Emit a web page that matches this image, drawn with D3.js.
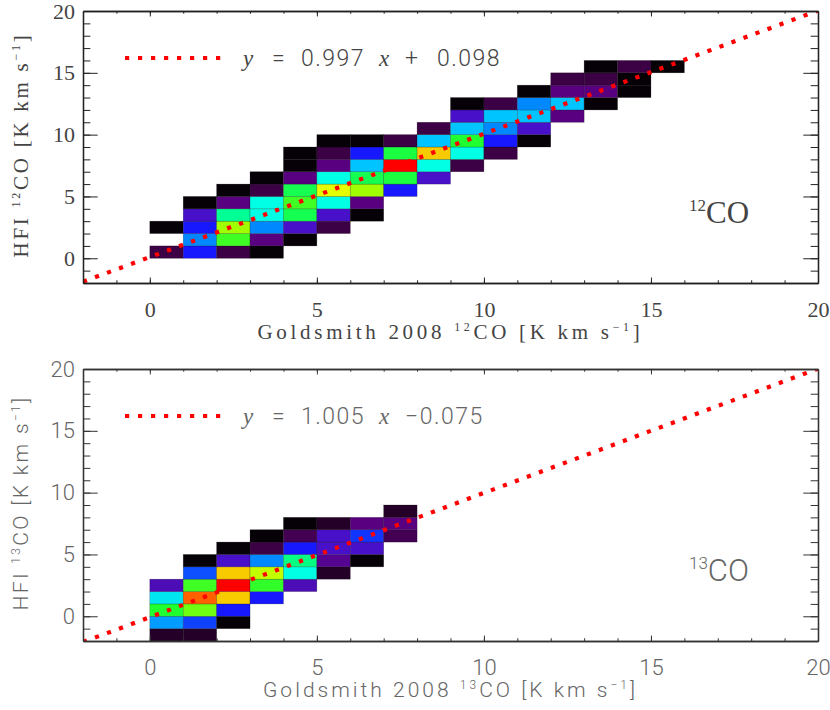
<!DOCTYPE html>
<html>
<head>
<meta charset="utf-8">
<script src="https://cdn.jsdelivr.net/npm/d3@7"></script>
<style>
  body { margin: 0; background: #fff; }
</style>
</head>
<body>
<svg id="chart"></svg>
<script>
// 2D histogram cells: [x bin start, y bin start, relative density 0-100]
const cells12 = [
  [0,0,10],[1,0,34],[2,0,10],[3,0,1],
  [1,1,42],[2,1,68],[3,1,18],[4,1,1],
  [0,2,1],[1,2,34],[2,2,74],[3,2,42],[4,2,26],[5,2,10],
  [1,3,26],[2,3,60],[3,3,55],[4,3,64],[5,3,26],[6,3,1],
  [1,4,1],[2,4,18],[3,4,55],[4,4,68],[5,4,55],[6,4,18],
  [2,5,1],[3,5,10],[4,5,64],[5,5,80],[6,5,74],[7,5,34],
  [3,6,1],[4,6,18],[5,6,55],[6,6,64],[7,6,65],[8,6,26],
  [4,7,1],[5,7,18],[6,7,48],[7,7,100],[8,7,55],[9,7,10],
  [4,8,1],[5,8,10],[6,8,34],[7,8,65],[8,8,86],[9,8,55],[10,8,10],
  [5,9,1],[6,9,1],[7,9,10],[8,9,48],[9,9,66],[10,9,34],[11,9,1],
  [8,10,10],[9,10,48],[10,10,42],[11,10,26],
  [9,11,26],[10,11,48],[11,11,48],[12,11,18],
  [9,12,1],[10,12,10],[11,12,42],[12,12,48],[13,12,1],
  [11,13,1],[12,13,18],[13,13,18],[14,13,1],
  [12,14,10],[13,14,10],[14,14,1],
  [13,15,1],[14,15,10],[15,15,1]
];

const cells13 = [
  [0,-2,6],[1,-2,6],
  [0,-1,44],[1,-1,37],[2,-1,1],
  [0,0,66],[1,0,71],[2,0,34],
  [0,1,52],[1,1,94],[2,1,86],[3,1,34],
  [0,2,24],[1,2,68],[2,2,100],[3,2,67],[4,2,24],
  [1,3,38],[2,3,86],[3,3,77],[4,3,55],[5,3,6],
  [1,4,1],[2,4,26],[3,4,42],[4,4,61],[5,4,20],[6,4,1],
  [2,5,1],[3,5,10],[4,5,34],[5,5,26],[6,5,26],
  [3,6,1],[4,6,12],[5,6,26],[6,6,36],[7,6,12],
  [4,7,1],[5,7,6],[6,7,18],[7,7,18],
  [7,8,6]
];

// linear fits: [slope, intercept]
const fit12 = [0.997, 0.098];
const fit13 = [1.005, -0.075];

const xDomain = [-2, 20];
const yDomain = [-2, 20];
const xTicks = [0, 5, 10, 15, 20];
const yTicks = [0, 5, 10, 15, 20];

// colour table (black -> purple -> blue -> cyan -> green -> yellow -> red)
const densityStops = [0, 10, 18, 26, 34, 42, 48, 55, 60, 66, 74, 80, 88, 94, 100];
const densityColors = ["#000000", "#3c0044", "#58007f", "#4810c8", "#1818ff", "#0088ff",
  "#00c4ff", "#00ffe4", "#00ff94", "#20ff30", "#a0ff00", "#e4ff00", "#ffb800", "#ff6000", "#ff0000"];

const width = 830, height = 710;
const margin = {left: 83, right: 12};

const svg = d3.select("#chart")
  .attr("width", width)
  .attr("height", height)
  .style("font-family", "Liberation Serif");

const color = d3.scaleLinear().domain(densityStops).range(densityColors);

const xScale = d3.scaleLinear()
  .domain(xDomain)
  .range([margin.left, width - margin.right]);

const panels = [
  {cells: cells12, fit: fit12, top: 11, bottom: 283, iso: "12",
   font: "Liberation Serif", weight: 400, ink: "#444", axisInk: "#222",
   xTitleW: 386, yTitleW: 225, titleSize: 21,
   fitText: ["y", "=", "0.997", "x", "+", "0.098"], fitX: [243, 272, 301, 379, 405, 437]},
  {cells: cells13, fit: fit13, top: 369, bottom: 641, iso: "13",
   font: "Roboto", weight: 300, ink: "#666", axisInk: "#333",
   xTitleW: 375, yTitleW: 215, titleSize: 21,
   fitText: ["y", "=", "1.005", "x", "\u22120.075"], fitX: [243, 272, 301, 379, 405]}
];

// stretch a text to a given width by letter spacing
function spread(sel, target) {
  const node = sel.node();
  const n = node.textContent.length;
  const w = node.getBBox().width;
  sel.style("letter-spacing", ((target - w) / n) + "px");
}

panels.forEach(function(p, i) {
  const yScale = d3.scaleLinear()
    .domain(yDomain)
    .range([p.bottom, p.top]);

  const g = svg.append("g");

  svg.append("clipPath").attr("id", "clip" + i)
    .append("rect")
    .attr("x", xScale(xDomain[0]))
    .attr("y", p.top)
    .attr("width", xScale(xDomain[1]) - xScale(xDomain[0]))
    .attr("height", p.bottom - p.top);

  // histogram cells
  g.append("g")
    .attr("clip-path", `url(#clip${i})`)
    .selectAll("rect")
    .data(p.cells)
    .enter().append("rect")
    .attr("x", d => xScale(d[0]))
    .attr("y", d => yScale(d[1] + 1))
    .attr("width", d => xScale(d[0] + 1) - xScale(d[0]))
    .attr("height", d => yScale(d[1]) - yScale(d[1] + 1))
    .attr("fill", d => color(d[2]))
    .attr("stroke", "#000")
    .attr("stroke-opacity", 0.35)
    .attr("stroke-width", 0.6);

  // fit line
  const line = d3.line()
    .x(d => xScale(d))
    .y(d => yScale(p.fit[0] * d + p.fit[1]));

  g.append("path")
    .attr("clip-path", `url(#clip${i})`)
    .datum(xDomain)
    .attr("d", line)
    .attr("fill", "none")
    .attr("stroke", "#ff0000")
    .attr("stroke-width", 4.2)
    .attr("stroke-dasharray", "4.2 8.6");

  // axes, ticks inside on all four sides
  const tickLenX = 0.02 * (p.bottom - p.top);
  const tickLenY = 0.02 * (xScale.range()[1] - xScale.range()[0]);
  const minorX = d3.range(xDomain[0], xDomain[1] + 1);
  const minorY = d3.range(yDomain[0], yDomain[1] + 1);

  function styleAxis(sel) {
    sel.selectAll("path, line").attr("stroke", p.axisInk);
    sel.selectAll("text")
      .attr("fill", p.ink)
      .style("font-family", p.font)
      .style("font-weight", p.weight)
      .style("font-size", "22px");
  }

  g.append("g")
    .attr("transform", `translate(0,${p.bottom})`)
    .call(d3.axisBottom(xScale).tickValues(minorX).tickSize(-tickLenX / 2).tickFormat("").tickSizeOuter(0))
    .call(styleAxis);
  g.append("g")
    .attr("transform", `translate(0,${p.bottom})`)
    .call(d3.axisBottom(xScale).tickValues(xTicks).tickSize(-tickLenX).tickPadding(18).tickSizeOuter(0))
    .call(styleAxis);
  g.append("g")
    .attr("transform", `translate(0,${p.top})`)
    .call(d3.axisTop(xScale).tickValues(minorX).tickSize(-tickLenX / 2).tickFormat("").tickSizeOuter(0))
    .call(styleAxis);
  g.append("g")
    .attr("transform", `translate(0,${p.top})`)
    .call(d3.axisTop(xScale).tickValues(xTicks).tickSize(-tickLenX).tickFormat("").tickSizeOuter(0))
    .call(styleAxis);

  g.append("g")
    .attr("transform", `translate(${xScale(xDomain[0])},0)`)
    .call(d3.axisLeft(yScale).tickValues(minorY).tickSize(-tickLenY / 2).tickFormat("").tickSizeOuter(0))
    .call(styleAxis);
  g.append("g")
    .attr("transform", `translate(${xScale(xDomain[0])},0)`)
    .call(d3.axisLeft(yScale).tickValues(yTicks).tickSize(-tickLenY).tickPadding(8).tickSizeOuter(0))
    .call(styleAxis);
  g.append("g")
    .attr("transform", `translate(${xScale(xDomain[1])},0)`)
    .call(d3.axisRight(yScale).tickValues(minorY).tickSize(-tickLenY / 2).tickFormat("").tickSizeOuter(0))
    .call(styleAxis);
  g.append("g")
    .attr("transform", `translate(${xScale(xDomain[1])},0)`)
    .call(d3.axisRight(yScale).tickValues(yTicks).tickSize(-tickLenY).tickFormat("").tickSizeOuter(0))
    .call(styleAxis);

  g.selectAll(".domain").attr("stroke-width", 1.3);

  // axis titles
  function title(sel, pre) {
    sel.attr("fill", p.ink)
      .style("font-family", p.font)
      .style("font-weight", p.weight)
      .style("font-size", p.titleSize + "px");
    sel.append("tspan").text(pre);
    sel.append("tspan").attr("dy", -8).style("font-size", "12px").text(p.iso);
    sel.append("tspan").attr("dy", 8).text("CO [K km s");
    sel.append("tspan").attr("dy", -8).style("font-size", "12px").text("\u22121");
    sel.append("tspan").attr("dy", 8).text("]");
  }

  const xt = g.append("text")
    .attr("x", (xScale.range()[0] + xScale.range()[1]) / 2)
    .attr("y", p.bottom + 56)
    .attr("text-anchor", "middle")
    .call(title, "Goldsmith 2008 ");
  spread(xt, p.xTitleW);

  const yt = g.append("text")
    .attr("transform", `translate(28,${(p.top + p.bottom) / 2 - 2}) rotate(-90)`)
    .attr("text-anchor", "middle")
    .call(title, "HFI ");
  spread(yt, p.yTitleW);

  // isotope label
  const iso = g.append("text")
    .attr("x", 689)
    .attr("y", p.bottom - 60)
    .attr("fill", p.ink)
    .style("font-family", p.font)
    .style("font-weight", p.weight);
  iso.append("tspan").attr("dy", -12).style("font-size", "17px").text(p.iso);
  iso.append("tspan").attr("dy", 12).style("font-size", "31px").text("CO");

  // legend
  const ly = p.top + 47;
  g.append("line")
    .attr("x1", 125).attr("x2", 222)
    .attr("y1", ly).attr("y2", ly)
    .attr("stroke", "#ff0000")
    .attr("stroke-width", 4.2)
    .attr("stroke-dasharray", "4.2 8.8");

  const lt = g.append("text")
    .attr("y", ly + 8)
    .attr("fill", p.ink)
    .style("font-size", "23px");
  lt.selectAll("tspan")
    .data(p.fitText)
    .enter().append("tspan")
    .attr("x", (d, j) => p.fitX[j])
    .style("font-family", d => (d === "y" || d === "x") ? "Liberation Serif" : "Roboto")
    .style("font-style", d => (d === "y" || d === "x") ? "italic" : "normal")
    .style("font-weight", d => (d === "y" || d === "x") ? 400 : 300)
    .style("letter-spacing", d => d.length > 2 ? "1.5px" : "0px")
    .text(d => d);
});
</script>
</body>
</html>
